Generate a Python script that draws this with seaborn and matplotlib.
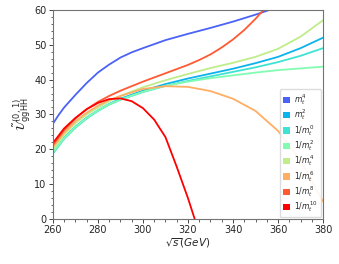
import numpy as np
import pandas as pd
import matplotlib
matplotlib.use("Agg")
import matplotlib.pyplot as plt
from matplotlib.patches import Patch
from matplotlib.ticker import MultipleLocator
import seaborn as sns

labels = [r"$m_t^4$", r"$m_t^2$", r"$1/m_t^0$", r"$1/m_t^2$", r"$1/m_t^4$",
          r"$1/m_t^6$", r"$1/m_t^8$", r"$1/m_t^{10}$"]
colors = ["#4b62f6", "#0db3ec", "#3fe3d3", "#82fcb2", "#c0ec8a",
          "#ffae64", "#ff5a32", "#ff0000"]

x_m4 = [260, 262.5, 265, 270, 275, 280, 285, 290, 295, 300, 310, 320, 330, 340, 350, 356.4, 362]
y_m4 = [27.3, 29.8, 32.0, 35.6, 39.0, 42.0, 44.3, 46.3, 47.8, 49.0, 51.3, 53.1, 54.8, 56.6, 58.6, 60.0, 61.5]

x_m2 = [260, 265, 270, 275, 280, 285, 290, 300, 310, 320, 330, 340, 350, 360, 370, 380]
y_m2 = [19.0, 23.3, 26.5, 29.1, 31.2, 33.0, 34.5, 36.8, 38.7, 40.3, 41.7, 43.1, 44.7, 46.5, 49.0, 52.0]

x_i0 = [260, 265, 270, 275, 280, 285, 290, 300, 310, 320, 330, 340, 350, 360, 370, 380]
y_i0 = [18.8, 23.0, 26.2, 28.8, 31.0, 32.8, 34.2, 36.4, 38.2, 39.6, 40.9, 42.2, 43.5, 45.0, 46.8, 49.0]

x_i2 = [260, 265, 270, 275, 280, 285, 290, 300, 310, 320, 330, 340, 350, 360, 370, 380]
y_i2 = [19.2, 23.2, 26.4, 29.0, 31.2, 32.9, 34.3, 36.5, 38.2, 39.4, 40.4, 41.2, 42.0, 42.7, 43.2, 43.7]

x_i4 = [260, 265, 270, 275, 280, 285, 290, 300, 310, 320, 330, 340, 350, 360, 370, 380]
y_i4 = [20.0, 24.2, 27.5, 30.0, 32.0, 33.8, 35.3, 37.8, 39.8, 41.6, 43.3, 44.8, 46.5, 48.8, 52.3, 57.0]

x_i6 = [260, 265, 270, 275, 280, 285, 290, 300, 310, 320, 330, 340, 350, 360, 370, 380]
y_i6 = [20.6, 24.8, 28.0, 30.5, 32.5, 34.1, 35.3, 37.3, 38.1, 37.9, 36.7, 34.5, 31.0, 25.3, 16.8, 5.0]

x_i8 = [260, 265, 270, 275, 280, 285, 290, 300, 310, 320, 325, 330, 335, 340, 345, 350, 354, 357]
y_i8 = [21.2, 25.5, 28.8, 31.5, 33.6, 35.3, 36.8, 39.4, 41.8, 44.2, 45.6, 47.2, 49.2, 51.5, 54.2, 57.4, 60.3, 62.5]

x_i10 = [260, 265, 270, 275, 280, 285, 290, 295, 300, 305, 310, 315, 320, 323, 326]
y_i10 = [21.8, 26.0, 29.0, 31.5, 33.3, 34.4, 34.6, 33.8, 31.8, 28.5, 23.5, 15.0, 6.0, 0.0, -6.0]

xs = [x_m4, x_m2, x_i0, x_i2, x_i4, x_i6, x_i8, x_i10]
ys = [y_m4, y_m2, y_i0, y_i2, y_i4, y_i6, y_i8, y_i10]

frames = []
for lab, xv, yv in zip(labels, xs, ys):
    frames.append(pd.DataFrame({"s": xv, "U": yv, "order": lab}))
df = pd.concat(frames, ignore_index=True)

sns.set_style("ticks")
plt.rcParams["font.family"] = ["DejaVu Sans"]
plt.rcParams["mathtext.fontset"] = "dejavusans"

fig = plt.figure(figsize=(3.39, 2.64), dpi=100)
ax = fig.add_axes([0.156, 0.170, 0.797, 0.793])

sns.lineplot(data=df, x="s", y="U", hue="order", hue_order=labels,
             palette=dict(zip(labels, colors)), sort=False, estimator=None,
             linewidth=1.3, legend=False, ax=ax)

ax.set_xlim(260, 380)
ax.set_ylim(0, 60)
ax.xaxis.set_major_locator(MultipleLocator(20))
ax.xaxis.set_minor_locator(MultipleLocator(5))
ax.yaxis.set_major_locator(MultipleLocator(10))
ax.yaxis.set_minor_locator(MultipleLocator(2))
ax.tick_params(which="major", direction="out", length=3, width=0.6, labelsize=7, pad=1.5)
ax.tick_params(which="minor", direction="out", length=1.8, width=0.5)
for sp in ax.spines.values():
    sp.set_visible(True)
    sp.set_color("0.45")
    sp.set_linewidth(0.8)

ax.set_xlabel(r"$\sqrt{s}(GeV)$", fontsize=7.5, labelpad=1)
ax.set_ylabel(r"$\tilde{\mathcal{U}}^{(0,\,1)}_{\mathrm{ggHH}}$", fontsize=8.5, labelpad=1)

handles = [Patch(facecolor=c, edgecolor="none") for c in colors]
leg = ax.legend(handles, labels, loc="lower right", fontsize=5.5,
                handlelength=0.9, handleheight=0.9, handletextpad=0.6,
                labelspacing=0.05, borderpad=0.4, borderaxespad=0.25,
                frameon=True, framealpha=0.9, edgecolor="0.85", fancybox=True)

fig.savefig("out.png", dpi=100)
